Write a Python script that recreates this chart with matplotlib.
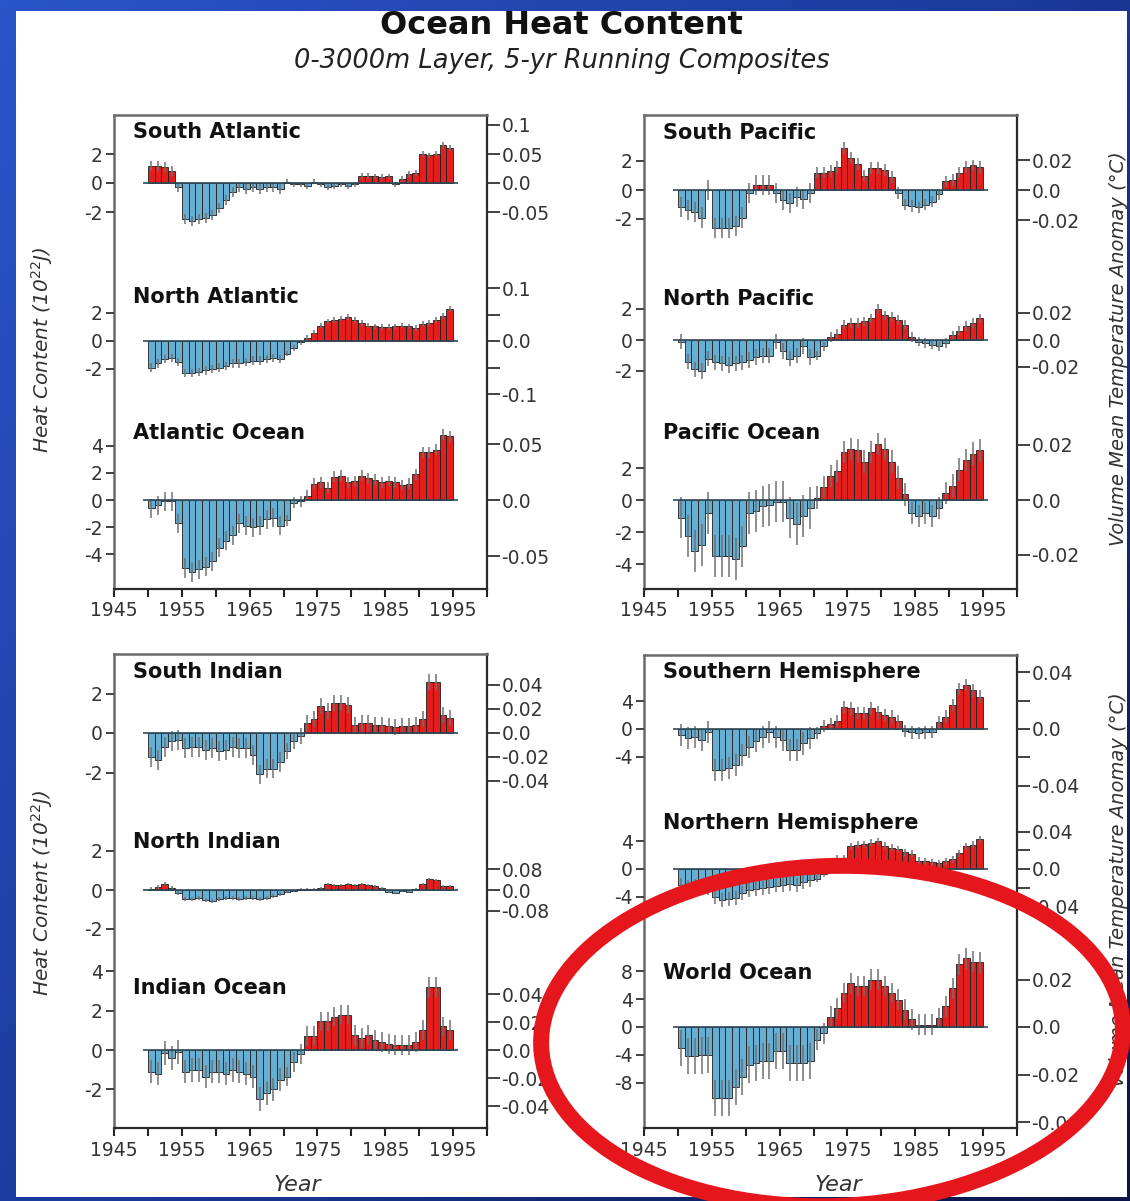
import numpy as np
import matplotlib
matplotlib.use("Agg")
import matplotlib.pyplot as plt
from matplotlib.patches import Ellipse, Rectangle
from matplotlib.transforms import IdentityTransform
from matplotlib.colors import LinearSegmentedColormap

# ---------------- data ----------------
years = np.arange(1950, 1995)

south_atlantic = [1.2, 1.2, 1.1, 0.8, -0.3, -2.5, -2.6, -2.5, -2.4, -2.2, -1.7, -1.2, -0.6, -0.3, -0.4,
                  -0.3, -0.4, -0.3, -0.3, -0.4, 0.1, -0.1, -0.1, -0.2, 0.1, -0.1, -0.3, -0.2, -0.1, -0.2,
                  -0.1, 0.5, 0.5, 0.45, 0.4, 0.45, -0.1, 0.3, 0.6, 0.7, 2.0, 1.9, 2.0, 2.6, 2.4]
north_atlantic = [-1.9, -1.6, -1.3, -1.2, -1.5, -2.3, -2.3, -2.2, -2.1, -2.0, -1.9, -1.8, -1.6, -1.6, -1.5,
                  -1.4, -1.4, -1.3, -1.2, -1.3, -0.9, -0.5, -0.1, 0.2, 0.6, 1.1, 1.4, 1.5, 1.6, 1.7,
                  1.5, 1.3, 1.1, 1.05, 1.0, 1.0, 1.05, 1.1, 1.05, 0.95, 1.2, 1.3, 1.5, 1.8, 2.3]
atlantic_ocean = [-0.6, -0.4, -0.1, -0.1, -1.7, -5.0, -5.3, -5.1, -4.9, -4.5, -3.5, -3.0, -2.6, -1.7, -1.9,
                  -2.0, -1.9, -1.4, -1.3, -1.9, -1.5, -0.2, -0.1, 0.3, 1.2, 1.3, 0.9, 1.7, 1.8, 1.3,
                  1.4, 1.8, 1.6, 1.5, 1.3, 1.4, 1.3, 1.1, 1.2, 1.9, 3.5, 3.5, 3.7, 4.8, 4.7]
south_pacific = [-1.15, -1.4, -1.5, -1.9, 0.0, -2.6, -2.6, -2.6, -2.5, -1.9, -0.2, 0.35, 0.35, 0.35, -0.2,
                 -0.7, -0.9, -0.5, -0.6, -0.2, 1.2, 1.2, 1.3, 1.6, 2.9, 2.2, 1.8, 1.0, 1.5, 1.5,
                 1.4, 0.9, -0.2, -1.0, -1.1, -1.2, -1.0, -0.8, -0.3, 0.6, 0.7, 1.2, 1.6, 1.7, 1.6]
north_pacific = [-0.1, -1.4, -1.9, -2.0, -1.2, -1.45, -1.5, -1.6, -1.5, -1.45, -1.3, -1.1, -1.0, -1.0, -0.1,
                 -0.7, -1.2, -1.0, -0.4, -1.1, -1.0, -0.4, 0.2, 0.4, 1.0, 1.1, 1.1, 1.2, 1.4, 2.0,
                 1.6, 1.5, 1.3, 1.0, 0.2, -0.1, -0.2, -0.3, -0.4, -0.2, 0.3, 0.6, 0.9, 1.1, 1.4]
pacific_ocean = [-1.1, -2.25, -3.2, -2.8, -0.8, -3.5, -3.5, -3.5, -3.7, -2.9, -0.8, -0.7, -0.4, -0.3, -0.1,
                 -0.1, -1.1, -1.5, -1.0, -0.5, 0.15, 0.8, 1.5, 1.8, 3.0, 3.2, 3.1, 2.4, 3.0, 3.5,
                 3.2, 2.4, 1.4, 0.35, -0.8, -1.0, -0.8, -1.0, -0.5, 0.45, 0.9, 1.9, 2.5, 2.9, 3.1]
south_indian = [-1.2, -1.35, -0.7, -0.4, -0.35, -0.75, -0.7, -0.7, -0.85, -0.75, -0.9, -0.85, -0.7, -0.75, -0.75,
                -1.1, -2.1, -1.8, -1.8, -1.45, -0.9, -0.4, -0.15, 0.5, 0.7, 1.35, 1.1, 1.5, 1.5, 1.4,
                0.4, 0.5, 0.5, 0.4, 0.4, 0.35, 0.3, 0.35, 0.35, 0.4, 0.7, 2.6, 2.6, 0.9, 0.75]
north_indian = [0.05, 0.15, 0.3, 0.1, -0.15, -0.45, -0.45, -0.4, -0.5, -0.55, -0.45, -0.4, -0.4, -0.45, -0.4,
                -0.4, -0.45, -0.4, -0.3, -0.2, -0.1, -0.05, 0.05, 0.05, 0.05, 0.1, 0.3, 0.25, 0.25, 0.3,
                0.25, 0.3, 0.25, 0.2, 0.1, -0.1, -0.15, -0.05, -0.1, 0.05, 0.3, 0.55, 0.5, 0.2, 0.2]
indian_ocean = [-1.1, -1.2, -0.15, -0.4, -0.1, -1.1, -1.0, -1.0, -1.35, -1.1, -1.1, -1.2, -1.0, -1.1, -1.2,
                -1.35, -2.5, -2.2, -2.0, -1.5, -1.35, -0.6, -0.2, 0.7, 0.7, 1.45, 1.45, 1.7, 1.8, 1.8,
                0.75, 0.6, 0.75, 0.5, 0.4, 0.3, 0.25, 0.25, 0.25, 0.4, 1.0, 3.2, 3.2, 1.2, 1.0]
southern_hemisphere = [-0.9, -1.35, -1.1, -1.6, -0.4, -5.9, -5.9, -5.7, -5.2, -3.8, -2.6, -1.8, -1.1, -0.4, -1.1,
                       -1.6, -3.0, -3.0, -2.1, -1.35, -0.6, 0.4, 0.7, 1.2, 3.2, 3.0, 2.3, 2.3, 3.0, 2.4,
                       2.0, 1.8, 1.1, -0.3, -0.5, -0.6, -0.5, -0.4, 1.0, 1.8, 3.5, 5.8, 6.4, 5.6, 4.7]
northern_hemisphere = [-2.3, -2.6, -2.4, -2.5, -2.8, -4.0, -4.5, -4.4, -4.2, -3.5, -3.0, -2.9, -2.8, -2.6, -2.4,
                       -2.3, -2.2, -2.3, -1.9, -1.6, -1.4, -0.7, 0.3, 1.6, 1.6, 3.3, 3.5, 3.6, 3.8, 4.0,
                       3.4, 3.1, 2.9, 2.4, 2.2, 1.2, 1.1, 1.0, 0.8, 1.1, 1.4, 2.3, 3.3, 3.5, 4.3]
world_ocean = [-3.0, -4.2, -4.2, -4.1, -4.0, -10.2, -10.2, -10.2, -8.6, -7.2, -5.4, -5.2, -4.9, -4.9, -3.5,
               -3.5, -5.2, -5.2, -5.2, -4.9, -1.8, -0.9, 1.5, 2.7, 4.9, 6.3, 5.9, 5.9, 6.8, 6.8,
               5.9, 4.9, 3.9, 2.5, 1.1, 0.3, 0.3, 0.3, 1.3, 3.0, 5.6, 9.0, 9.9, 9.4, 9.3]

# error half-widths (before 1970, from 1970)
err_south_atlantic = (0.35, 0.2)
err_north_atlantic = (0.3, 0.2)
err_atlantic_ocean = (0.7, 0.4)
err_south_pacific = (0.7, 0.4)
err_north_pacific = (0.5, 0.3)
err_pacific_ocean = (1.3, 0.7)
err_south_indian = (0.5, 0.4)
err_north_indian = (0.1, 0.06)
err_indian_ocean = (0.6, 0.5)
err_southern_hemisphere = (1.6, 0.9)
err_northern_hemisphere = (1.0, 0.5)
err_world_ocean = (2.6, 1.5)

x_major = [1945, 1955, 1965, 1975, 1985, 1995]
x_minor = [1950, 1960, 1970, 1980, 1990, 2000]

# ---------------- layout (pixels) ----------------
W, H = 1130, 1201
RED = "#e41d1d"
BLUE = "#66afd3"
TICKC = "#333333"

fig = plt.figure(figsize=(W / 100, H / 100), dpi=100)


def rect(x0, y0, x1, y1):
    return [x0 / W, 1 - y1 / H, (x1 - x0) / W, (y1 - y0) / H]


# background
bg = fig.add_axes([0, 0, 1, 1], zorder=-10)
gx, gy = np.meshgrid(np.linspace(0, 1, 200), np.linspace(0, 1, 200))
grad = 0.55 * (1 - gx) + 0.45 * (1 - gy)
cmap = LinearSegmentedColormap.from_list("bgc", ["#0a1446", "#1a3a9c", "#2a55c8"])
bg.imshow(grad, cmap=cmap, extent=[0, 1, 0, 1], aspect="auto", origin="upper")
bg.add_patch(Rectangle((16 / W, 1 - 1197 / H), (1127 - 16) / W, (1197 - 11) / H,
                       transform=bg.transAxes, facecolor="white", edgecolor="none"))
bg.set_axis_off()

panels = [
    dict(box=(114, 115, 487, 589), series=[
        dict(name="South Atlantic", v=south_atlantic, e=err_south_atlantic, zero=183, unit=14.5,
             lt=[2, 0, -2], rt=[0.1, 0.05, 0.0, -0.05], rl=["0.1", "0.05", "0.0", "-0.05"], rpx=580, ly=132),
        dict(name="North Atlantic", v=north_atlantic, e=err_north_atlantic, zero=341, unit=14.0,
             lt=[2, 0, -2], rt=[0.1, 0.05, 0.0, -0.05, -0.1], rl=["0.1", "", "0.0", "", "-0.1"], rpx=530, ly=297),
        dict(name="Atlantic Ocean", v=atlantic_ocean, e=err_atlantic_ocean, zero=500, unit=13.6,
             lt=[4, 2, 0, -2, -4], rt=[0.05, 0.0, -0.05], rl=["0.05", "0.0", "-0.05"], rpx=1120, ly=433),
    ]),
    dict(box=(644, 115, 1017, 589), series=[
        dict(name="South Pacific", v=south_pacific, e=err_south_pacific, zero=190, unit=14.5,
             lt=[2, 0, -2], rt=[0.02, 0.0, -0.02], rl=["0.02", "0.0", "-0.02"], rpx=1500, ly=133),
        dict(name="North Pacific", v=north_pacific, e=err_north_pacific, zero=340, unit=15.5,
             lt=[2, 0, -2], rt=[0.02, 0.0, -0.02], rl=["0.02", "0.0", "-0.02"], rpx=1350, ly=299),
        dict(name="Pacific Ocean", v=pacific_ocean, e=err_pacific_ocean, zero=500, unit=16.0,
             lt=[2, 0, -2, -4], rt=[0.02, 0.0, -0.02], rl=["0.02", "0.0", "-0.02"], rpx=2750, ly=433),
    ]),
    dict(box=(114, 654, 487, 1128), series=[
        dict(name="South Indian", v=south_indian, e=err_south_indian, zero=733, unit=19.75,
             lt=[2, 0, -2], rt=[0.04, 0.02, 0.0, -0.02, -0.04], rl=["0.04", "0.02", "0.0", "-0.02", "-0.04"],
             rpx=1200, ly=672),
        dict(name="North Indian", v=north_indian, e=err_north_indian, zero=890, unit=19.5,
             lt=[2, 0, -2], rt=[0.08, 0.0, -0.08], rl=["0.08", "0.0", "-0.08"], rpx=262, ly=842),
        dict(name="Indian Ocean", v=indian_ocean, e=err_indian_ocean, zero=1050, unit=19.7,
             lt=[4, 2, 0, -2], rt=[0.04, 0.02, 0.0, -0.02, -0.04], rl=["0.04", "0.02", "0.0", "-0.02", "-0.04"],
             rpx=1400, ly=988),
    ]),
    dict(box=(644, 655, 1017, 1128), series=[
        dict(name="Southern Hemisphere", v=southern_hemisphere, e=err_southern_hemisphere, zero=729, unit=6.9,
             lt=[4, 0, -4], rt=[0.04, 0.02, 0.0, -0.02, -0.04], rl=["0.04", "", "0.0", "", "-0.04"],
             rpx=1420, ly=672),
        dict(name="Northern Hemisphere", v=northern_hemisphere, e=err_northern_hemisphere, zero=869, unit=6.9,
             lt=[4, 0, -4], rt=[0.04, 0.02, 0.0, -0.02, -0.04], rl=["0.04", "", "0.0", "", "-0.04"],
             rpx=930, ly=823),
        dict(name="World Ocean", v=world_ocean, e=err_world_ocean, zero=1027, unit=6.95,
             lt=[8, 4, 0, -4, -8], rt=[0.02, 0.0, -0.02, -0.04], rl=["0.02", "0.0", "-0.02", "-0.04"],
             rpx=2375, ly=973),
    ]),
]

for p in panels:
    x0, y0, x1, y1 = p["box"]
    frame = fig.add_axes(rect(x0, y0, x1, y1))
    frame.set_xlim(1945, 2000)
    frame.set_ylim(0, 1)
    frame.set_yticks([])
    frame.set_facecolor("none")
    frame.set_xticks(x_major)
    frame.set_xticklabels([str(t) for t in x_major])
    frame.set_xticks(x_minor, minor=True)
    frame.tick_params(axis="x", which="both", direction="out", length=6, width=1.5,
                      color="#222222", labelsize=13.5, labelcolor=TICKC, pad=3)
    for side in ["left", "top"]:
        frame.spines[side].set_color("#6a6a6a")
        frame.spines[side].set_linewidth(1.8)
    for side in ["right", "bottom"]:
        frame.spines[side].set_color("#2a2a2a")
        frame.spines[side].set_linewidth(1.6)

    for s in p["series"]:
        ax = fig.add_axes(rect(x0, y0, x1, y1))
        ax.set_facecolor("none")
        for sp in ax.spines.values():
            sp.set_visible(False)
        ax.set_xlim(1945, 2000)
        ax.set_ylim((s["zero"] - y1) / s["unit"], (s["zero"] - y0) / s["unit"])
        ax.tick_params(axis="x", bottom=False, labelbottom=False)
        ax.set_yticks(s["lt"])
        ax.set_yticklabels([str(t) for t in s["lt"]])
        ax.tick_params(axis="y", direction="out", length=6, width=1.3, color=TICKC,
                       labelsize=13.5, labelcolor=TICKC, pad=2)

        vals = np.array(s["v"])
        errs = np.where(years < 1970, s["e"][0], s["e"][1])
        cols = [RED if v > 0 else BLUE for v in vals]
        ax.bar(years, vals, width=1.0, align="edge", color=cols, edgecolor="#1e1e1e",
               linewidth=0.6, zorder=2)
        ax.vlines(years + 0.5, vals - errs, vals + errs, colors="#707070", linewidth=1.1, zorder=3)
        ax.hlines(0, 1949.3, 1995.7, colors="#2d4a5a", linewidth=1.2, zorder=4)

        rax = ax.twinx()
        for sp in rax.spines.values():
            sp.set_visible(False)
        rax.set_ylim((s["zero"] - y1) / s["rpx"], (s["zero"] - y0) / s["rpx"])
        rax.set_yticks(s["rt"])
        rax.set_yticklabels(s["rl"])
        rax.tick_params(axis="y", direction="out", length=9, width=1.3, color=TICKC,
                        labelsize=13.5, labelcolor=TICKC, pad=1.5)

        fig.text((x0 + 19) / W, 1 - s["ly"] / H, s["name"], ha="left", va="center",
                 fontsize=15, fontweight="bold", color="#111111")

# titles and axis labels
fig.text(561 / W, 1 - 26 / H, "Ocean Heat Content", ha="center", va="center",
         fontsize=23, fontweight="bold", color="#111111")
fig.text(562 / W, 1 - 61 / H, "0-3000m Layer, 5-yr Running Composites", ha="center", va="center",
         fontsize=18.5, style="italic", color="#222222")
for yc in (350, 893):
    fig.text(42 / W, 1 - yc / H, r"Heat Content (10$^{22}$J)", rotation=90, ha="center", va="center",
             fontsize=14.5, style="italic", color="#333333")
for yc in (349, 890):
    fig.text(1119 / W, 1 - yc / H, "Volume Mean Temperature Anomay (°C)", rotation=90,
             ha="center", va="center", fontsize=14, style="italic", color="#333333")
for xc in (297, 838):
    fig.text(xc / W, 1 - 1185 / H, "Year", ha="center", va="center", fontsize=16,
             style="italic", color="#333333")

# red highlight ellipse (pixel coordinates)
ell = Ellipse((832, H - 1036), 582, 340, angle=2, transform=IdentityTransform(),
              facecolor="none", edgecolor="#e5161c", linewidth=11.5, zorder=20)
fig.add_artist(ell)

fig.savefig("out.png", dpi=100)
